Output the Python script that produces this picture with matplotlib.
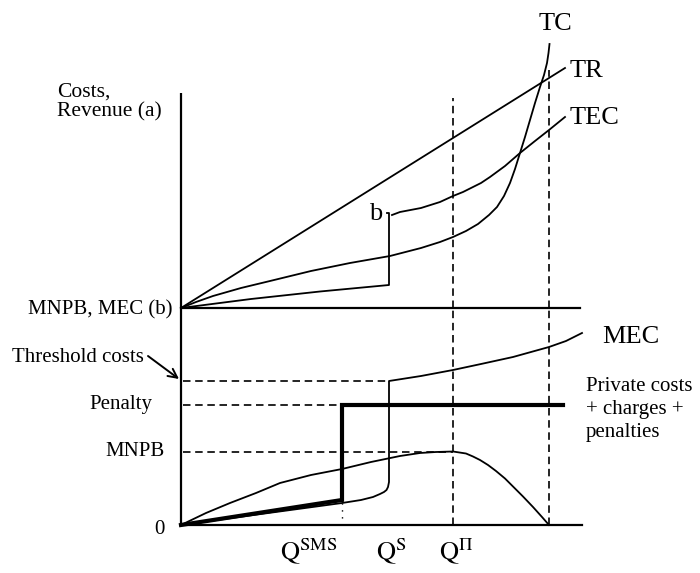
import matplotlib
matplotlib.use("Agg")
import matplotlib.pyplot as plt

plt.rcParams['font.family'] = ['Liberation Serif', 'DejaVu Serif']
plt.rcParams['mathtext.fontset'] = 'stix'

# ---------------- data (quantity / value units) ----------------
# upper panel: costs and revenue
TR_Q = [0, 384]
TR_V = [0, 240]
TC_Q = [0, 15, 32, 60, 89, 130, 169, 209, 240, 259, 272, 285, 297, 308, 316, 323,
        329, 334, 339, 344, 349, 354, 359, 363, 366, 367.5, 368.5]
TC_V = [0, 6, 12, 20, 27, 37, 45, 52, 60, 66, 71, 77, 84, 93, 101, 112,
        125, 139, 155, 171, 188, 205, 221, 233, 245, 255, 264]
TEC_Q = [0, 70, 139, 208, 208, 206]
TEC_V = [0, 9, 16.5, 23, 95, 95]
TEC_UP_Q = [211, 219, 240, 259, 272, 282, 292, 300, 309, 324, 339, 354, 368, 384]
TEC_UP_V = [93, 96, 100, 106, 112, 116, 121, 125, 131, 142, 155, 167, 178, 191]

# lower panel: marginal values
MNPB_Q = [0, 25, 49, 75, 99, 130, 161, 190, 219, 239, 255, 272, 285, 292, 299, 307,
          315, 324, 332, 342, 352, 361, 368]
MNPB_V = [0, 12, 22, 32, 42, 50, 56, 63, 69, 72, 73, 73.5, 71.5, 68.5, 65, 60,
          54, 46.5, 38.5, 28.5, 18, 8, 0]
MEC_Q = [0, 80, 161, 180, 192, 199, 203, 205.5, 207, 208, 208, 240, 272, 300,
         332, 350, 368, 385, 401]
MEC_V = [0, 11, 22, 25, 28, 31, 33, 35, 38, 43, 144, 149, 155, 161,
         168, 173, 178, 184, 192]
PEN_Q = [0, 161, 161, 382]
PEN_V = [0, 25, 120, 120]

THRESH = 144
PENALTY = 120
MNPB_MAX = 73
Q_SMS, Q_S, Q_PI, Q_MAX = 161, 208, 272, 368

# ---------------- figure ----------------
W, H = 700, 573
fig = plt.figure(figsize=(7.0, 5.73), dpi=100)
ox = 181
top_base, bot_base = 308, 525
ax_t = fig.add_axes([ox / W, (H - top_base) / H, 420 / W, 290 / H])
ax_b = fig.add_axes([ox / W, (H - bot_base) / H, 420 / W, 217 / H])
ax_t.set_xlim(0, 420); ax_t.set_ylim(0, 290)
ax_b.set_xlim(0, 420); ax_b.set_ylim(0, 217)
for a in (ax_t, ax_b):
    a.set_axis_off()
    a.patch.set_alpha(0)

K = 'black'
LW = 1.3
AXW = 1.6
DASH = (0, (4.5, 2.8))

# axes lines
ax_t.plot([0, 0], [0, 215], color=K, lw=AXW, clip_on=False, solid_capstyle='butt')
ax_t.plot([0, 399], [0, 0], color=K, lw=AXW, clip_on=False)
ax_b.plot([0, 0], [0, 217], color=K, lw=AXW, clip_on=False, solid_capstyle='butt')
ax_b.plot([0, 401], [0, 0], color=K, lw=AXW, clip_on=False)

# upper curves
ax_t.plot(TR_Q, TR_V, color=K, lw=LW, clip_on=False)
ax_t.plot(TC_Q, TC_V, color=K, lw=LW, clip_on=False)
ax_t.plot(TEC_Q, TEC_V, color=K, lw=LW, clip_on=False)
ax_t.plot(TEC_UP_Q, TEC_UP_V, color=K, lw=LW, clip_on=False)

# vertical dashed lines spanning both panels
ax_t.plot([Q_PI, Q_PI], [0, 210], color=K, lw=1.2, ls=DASH, clip_on=False)
ax_t.plot([Q_MAX, Q_MAX], [0, 238], color=K, lw=1.2, ls=DASH, clip_on=False)
ax_b.plot([Q_PI, Q_PI], [0, 217], color=K, lw=1.2, ls=DASH, clip_on=False)
ax_b.plot([Q_MAX, Q_MAX], [0, 217], color=K, lw=1.2, ls=DASH, clip_on=False)

# horizontal dashed levels
ax_b.plot([2, Q_S], [THRESH, THRESH], color=K, lw=1.2, ls=DASH, clip_on=False)
ax_b.plot([2, Q_SMS], [PENALTY, PENALTY], color=K, lw=1.2, ls=DASH, clip_on=False)
ax_b.plot([2, Q_PI], [MNPB_MAX, MNPB_MAX], color=K, lw=1.2, ls=DASH, clip_on=False)
ax_b.plot([Q_SMS, Q_SMS], [0, 22], color=K, lw=1.0, ls=(0, (1, 4)), clip_on=False)

# lower curves
ax_b.plot(MNPB_Q, MNPB_V, color=K, lw=LW, clip_on=False)
ax_b.plot(MEC_Q, MEC_V, color=K, lw=LW, clip_on=False)
ax_b.plot(PEN_Q, PEN_V, color=K, lw=3.0, clip_on=False, solid_joinstyle='miter')

# ---------------- labels ----------------
FS_BIG = 19
FS = 15
ax_t.text(-124, 225, "Costs,\nRevenue (a)", fontsize=15.5, ha='left', va='top',
          linespacing=1.05)
ax_t.text(374, 284, "TC", fontsize=FS_BIG, ha='center', va='center')
ax_t.text(389, 237, "TR", fontsize=FS_BIG, ha='left', va='center')
ax_t.text(389, 190, "TEC", fontsize=FS_BIG, ha='left', va='center')
ax_t.text(201, 94, "b", fontsize=FS_BIG, ha='right', va='center')

ax_b.text(-9, 215, "MNPB, MEC (b)", fontsize=FS, ha='right', va='center')
ax_b.text(-169, 168, "Threshold costs", fontsize=FS, ha='left', va='center')
ax_b.annotate("", xy=(-2, 146), xytext=(-33, 169),
              arrowprops=dict(arrowstyle='->', color=K, lw=1.4,
                              mutation_scale=16, shrinkA=0, shrinkB=0),
              annotation_clip=False)
ax_b.text(-29, PENALTY, "Penalty", fontsize=FS, ha='right', va='center')
ax_b.text(-16, MNPB_MAX, "MNPB", fontsize=FS, ha='right', va='center')
ax_b.text(-22, -5, "0", fontsize=FS, ha='center', va='center')
ax_b.text(421, 188, "MEC", fontsize=FS_BIG, ha='left', va='center')
ax_b.text(405, 148, "Private costs\n+ charges +\npenalties", fontsize=15,
          ha='left', va='top', linespacing=1.3)

ax_b.text(128, -27, r"$\mathrm{Q}^{\mathrm{SMS}}$", fontsize=FS_BIG, ha='center', va='center')
ax_b.text(210, -27, r"$\mathrm{Q}^{\mathrm{S}}$", fontsize=FS_BIG, ha='center', va='center')
ax_b.text(275, -27, r"$\mathrm{Q}^{\Pi}$", fontsize=FS_BIG, ha='center', va='center')

fig.savefig("out.png", dpi=100, facecolor='white')
